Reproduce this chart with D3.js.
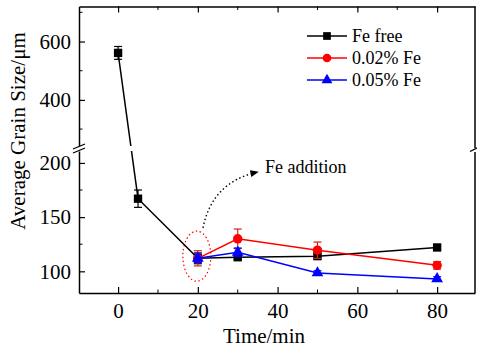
<!DOCTYPE html>
<html>
<head>
<meta charset="utf-8">
<script src="https://cdn.jsdelivr.net/npm/d3@7"></script>
<style>
  body { margin: 0; background: #fff; }
  svg text { font-family: 'Liberation Serif', 'Times New Roman', serif !important; }
</style>
</head>
<body>
<div id="vis"></div>
<script>
// data
const TIME_FREE = [0, 5, 20, 30, 50, 80];
const FE_FREE = [561, 167, 112, 113, 114, 122];
const FE_FREE_ERR = [22, 8, 5, 2, 2, 2];

const TIME_FE = [20, 30, 50, 80];
const FE_002 = [112, 130, 119.5, 105.5];
const FE_002_ERR = [7, 9, 7.5, 3.5];
const FE_005 = [112, 117.5, 98.5, 93];
const FE_005_ERR = [4, 4, 2, 2];

const X_TICKS = [0, 20, 40, 60, 80];
const Y_LOW_TICKS = [100, 150, 200];
const Y_UP_TICKS = [400, 600];

const FRAME_WIDTH = 477;
const FRAME_HEIGHT = 354;
const LEFT = 79, RIGHT = 475, TOP = 6.5, BOTTOM = 293;
const BREAK_UP = 146, BREAK_LOW = 151;

const SVG = d3.select("#vis")
              .append("svg")
                .attr("width", FRAME_WIDTH)
                .attr("height", FRAME_HEIGHT);

// scales: x, and the two pieces of the broken y axis
const X_SCALE = d3.scaleLinear().domain([-9.8, 89.5]).range([LEFT, RIGHT]);
const Y_LOW = d3.scaleLinear().domain([80, 211]).range([BOTTOM, BREAK_LOW]);
const Y_UP = d3.scaleLinear().domain([242, 720]).range([BREAK_UP, TOP]);
const yPos = (v) => { return v > 226 ? Y_UP(v) : Y_LOW(v); };

// clip so lines get a gap at the break
const defs = SVG.append("defs");
const clip = defs.append("clipPath").attr("id", "panels");
clip.append("rect").attr("x", LEFT).attr("y", 0)
    .attr("width", RIGHT - LEFT).attr("height", BREAK_UP);
clip.append("rect").attr("x", LEFT).attr("y", BREAK_LOW)
    .attr("width", RIGHT - LEFT).attr("height", FRAME_HEIGHT - BREAK_LOW);

// axes: bottom with inward ticks
const xAxis = SVG.append("g")
    .attr("transform", "translate(0," + BOTTOM + ")")
    .call(d3.axisBottom(X_SCALE).tickValues(X_TICKS).tickSizeInner(-6).tickSizeOuter(0).tickPadding(10));
xAxis.append("g").selectAll("line")
    .data([10, 30, 50, 70]).enter().append("line")
    .attr("x1", (d) => X_SCALE(d)).attr("x2", (d) => X_SCALE(d))
    .attr("y1", 0).attr("y2", -3.5).attr("stroke", "#000");

// top axis, ticks only
const topAxis = SVG.append("g")
    .attr("transform", "translate(0," + TOP + ")")
    .call(d3.axisTop(X_SCALE).tickValues(X_TICKS).tickSizeInner(-6).tickSizeOuter(0).tickFormat(""));
topAxis.append("g").selectAll("line")
    .data([10, 30, 50, 70]).enter().append("line")
    .attr("x1", (d) => X_SCALE(d)).attr("x2", (d) => X_SCALE(d))
    .attr("y1", 0).attr("y2", 3.5).attr("stroke", "#000");

// left axis, lower piece
const yLowAxis = SVG.append("g")
    .attr("transform", "translate(" + LEFT + ",0)")
    .call(d3.axisLeft(Y_LOW).tickValues(Y_LOW_TICKS).tickSizeInner(-6).tickSizeOuter(0).tickPadding(8));
yLowAxis.append("g").selectAll("line")
    .data([125, 175]).enter().append("line")
    .attr("y1", (d) => Y_LOW(d)).attr("y2", (d) => Y_LOW(d))
    .attr("x1", 0).attr("x2", 3.5).attr("stroke", "#000");

// left axis, upper piece
const yUpAxis = SVG.append("g")
    .attr("transform", "translate(" + LEFT + ",0)")
    .call(d3.axisLeft(Y_UP).tickValues(Y_UP_TICKS).tickSizeInner(-6).tickSizeOuter(0).tickPadding(8));
yUpAxis.append("g").selectAll("line")
    .data([300, 500, 700]).enter().append("line")
    .attr("y1", (d) => Y_UP(d)).attr("y2", (d) => Y_UP(d))
    .attr("x1", 0).attr("x2", 3.5).attr("stroke", "#000");

SVG.selectAll(".domain").attr("stroke", "#000").attr("stroke-width", 1.5);
SVG.selectAll(".tick line").attr("stroke", "#000").attr("stroke-width", 1.2);
SVG.selectAll(".tick text").attr("font-size", "21px").attr("fill", "#000");

// right border with break
SVG.append("line").attr("x1", RIGHT).attr("x2", RIGHT).attr("y1", TOP).attr("y2", BREAK_UP + 2)
    .attr("stroke", "#000").attr("stroke-width", 1.5);
SVG.append("line").attr("x1", RIGHT).attr("x2", RIGHT).attr("y1", BREAK_LOW + 1).attr("y2", BOTTOM)
    .attr("stroke", "#000").attr("stroke-width", 1.5);

// break marks
const breakMid = (BREAK_UP + BREAK_LOW) / 2;
[-2, 2].forEach((o) => {
  SVG.append("line")
     .attr("x1", LEFT - 6).attr("y1", breakMid + o + 2.5)
     .attr("x2", LEFT + 6).attr("y2", breakMid + o - 2.5)
     .attr("stroke", "#000").attr("stroke-width", 1.3);
});
SVG.append("line")
   .attr("x1", RIGHT - 5).attr("y1", breakMid + 3)
   .attr("x2", RIGHT + 3).attr("y2", breakMid - 1)
   .attr("stroke", "#000").attr("stroke-width", 1.3);

// axis titles
SVG.append("text")
   .attr("x", 264).attr("y", 343)
   .attr("text-anchor", "middle").attr("font-size", "21px")
   .text("Time/min");
SVG.append("text")
   .attr("transform", "translate(25,131) rotate(-90)")
   .attr("text-anchor", "middle").attr("font-size", "21px")
   .text("Average Grain Size/\u03bcm");

// annotation: dotted ellipse and curved arrow
SVG.append("ellipse")
   .attr("cx", X_SCALE(20) - 1).attr("cy", Y_LOW(114))
   .attr("rx", 14).attr("ry", 25)
   .attr("fill", "none").attr("stroke", "#ff0000")
   .attr("stroke-width", 1.2).attr("stroke-dasharray", "1.5,2.5");
defs.append("marker").attr("id", "arrow")
    .attr("viewBox", "0 0 10 10").attr("refX", 9).attr("refY", 5)
    .attr("markerWidth", 6).attr("markerHeight", 6).attr("orient", "auto")
    .append("path").attr("d", "M0,1L10,5L0,9Z").attr("fill", "#000");
SVG.append("path")
   .attr("d", "M203,228 Q212,182 258,172")
   .attr("fill", "none").attr("stroke", "#000")
   .attr("stroke-width", 1.4).attr("stroke-dasharray", "1.5,2.5")
   .attr("marker-end", "url(#arrow)");
SVG.append("text")
   .attr("x", 265).attr("y", 173).attr("font-size", "18px")
   .text("Fe addition");

// series
const SERIES = [
  {name: "Fe free", t: TIME_FREE, v: FE_FREE, e: FE_FREE_ERR, color: "#000000", err: "#000000", sym: d3.symbolSquare, size: 70},
  {name: "0.02% Fe", t: TIME_FE, v: FE_002, e: FE_002_ERR, color: "#ff0000", err: "#d42020", sym: d3.symbolCircle, size: 70},
  {name: "0.05% Fe", t: TIME_FE, v: FE_005, e: FE_005_ERR, color: "#0000ff", err: "#0000ff", sym: d3.symbolTriangle, size: 60}
];

const line = d3.line().x((d) => X_SCALE(d.t)).y((d) => yPos(d.v));

SERIES.forEach((s) => {
  const pts = s.t.map((t, i) => ({t: t, v: s.v[i], e: s.e[i]}));
  const g = SVG.append("g");

  g.append("path").datum(pts)
   .attr("d", line).attr("fill", "none")
   .attr("stroke", s.color).attr("stroke-width", 1.5)
   .attr("clip-path", "url(#panels)");

  // error bars
  const eb = g.selectAll(".err").data(pts).enter().append("g")
              .attr("stroke", s.err).attr("stroke-width", 1.2);
  eb.append("line")
    .attr("x1", (d) => X_SCALE(d.t)).attr("x2", (d) => X_SCALE(d.t))
    .attr("y1", (d) => yPos(d.v - d.e)).attr("y2", (d) => yPos(d.v + d.e));
  [-1, 1].forEach((sg) => {
    eb.append("line")
      .attr("x1", (d) => X_SCALE(d.t) - 4).attr("x2", (d) => X_SCALE(d.t) + 4)
      .attr("y1", (d) => yPos(d.v + sg * d.e)).attr("y2", (d) => yPos(d.v + sg * d.e));
  });

  g.selectAll(".pt").data(pts).enter().append("path")
   .attr("d", d3.symbol().type(s.sym).size(s.size))
   .attr("transform", (d) => "translate(" + X_SCALE(d.t) + "," + yPos(d.v) + ")")
   .attr("fill", s.color);
});

// legend
const LEG_X = 307, LEG_Y = 36, LEG_STEP = 22;
const leg = SVG.append("g").selectAll("g").data(SERIES).enter().append("g")
    .attr("transform", (d, i) => "translate(" + LEG_X + "," + (LEG_Y + i * LEG_STEP) + ")");
leg.append("line").attr("x1", 0).attr("x2", 40).attr("y1", 0).attr("y2", 0)
   .attr("stroke", (d) => d.color).attr("stroke-width", 1.5);
leg.append("path")
   .attr("d", (d) => d3.symbol().type(d.sym).size(d.size * 0.85)())
   .attr("transform", "translate(20,0)")
   .attr("fill", (d) => d.color);
leg.append("text").attr("x", 45).attr("y", 6).attr("font-size", "18px")
   .text((d) => d.name);
</script>
</body>
</html>
